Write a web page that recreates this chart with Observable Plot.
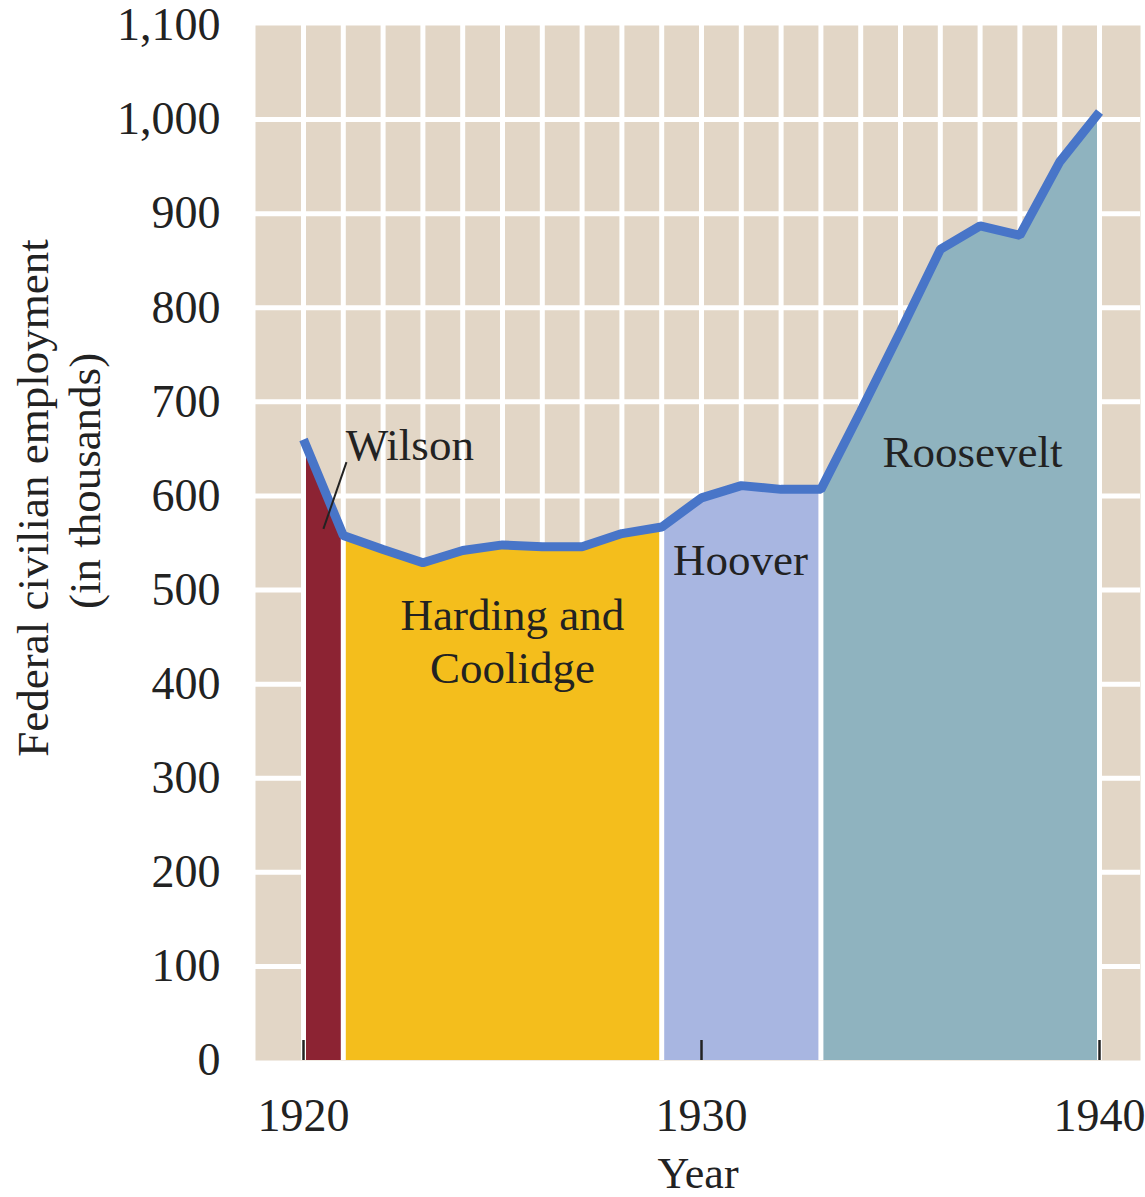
<!DOCTYPE html>
<html>
<head>
<meta charset="utf-8">
<script src="https://cdn.jsdelivr.net/npm/d3@7"></script>
<script src="https://cdn.jsdelivr.net/npm/@observablehq/plot@0.6"></script>
<style>
  html, body { margin: 0; padding: 0; background: #ffffff; }
  #chart { width: 1145px; height: 1197px; }
</style>
</head>
<body>
<div id="chart"></div>
<script>
// ---- Data ----
const years = [1920, 1921, 1922, 1923, 1924, 1925, 1926, 1927, 1928, 1929, 1930,
               1931, 1932, 1933, 1934, 1935, 1936, 1937, 1938, 1939, 1940];
const employment = [660, 558, 543, 529, 542, 548, 546, 546, 560, 567, 598,
                    611, 607, 607, 690, 775, 862, 887, 877, 955, 1008];

const presidents = ["Wilson", "Harding and Coolidge", "Hoover", "Roosevelt"];
const termStart = [1920, 1921, 1929, 1933];
const termEnd = [1921, 1929, 1933, 1940];
const presidentColors = ["#8c2333", "#f4be1c", "#a8b6e1", "#8fb3bf"];

const xTickYears = [1920, 1930, 1940];
const yTickValues = [0, 100, 200, 300, 400, 500, 600, 700, 800, 900, 1000, 1100];
const gridYValues = [100, 200, 300, 400, 500, 600, 700, 800, 900, 1000];

// label annotations (data coordinates)
const labelText = ["Wilson", "Harding and", "Coolidge", "Hoover", "Roosevelt"];
const labelYear = [1921.06, 1925.25, 1925.25, 1930.98, 1936.81];
const labelValue = [653, 473, 417, 531, 646];
const labelAnchor = ["start", "middle", "middle", "middle", "middle"];

// Wilson leader line
const leaderYear1 = [1920.5];
const leaderValue1 = [565];
const leaderYear2 = [1921.08];
const leaderValue2 = [636];

// ---- Build tables ----
const series = years.map((y, i) => ({year: y, value: employment[i]}));
const valueOf = new Map(series.map(d => [d.year, d.value]));
const areaRows = [];
presidents.forEach((p, k) => {
  for (let y = termStart[k]; y <= termEnd[k]; y++) {
    areaRows.push({president: p, year: y, value: valueOf.get(y)});
  }
});
const boundaries = Array.from(new Set([...termStart, ...termEnd])).sort((a, b) => a - b)
  .map(y => ({year: y, value: valueOf.get(y)}));
const labels = labelText.map((t, i) => ({text: t, year: labelYear[i], value: labelValue[i], anchor: labelAnchor[i]}));
const leaders = leaderYear1.map((d, i) => ({x1: d, y1: leaderValue1[i], x2: leaderYear2[i], y2: leaderValue2[i]}));

const W = 1145, H = 1197;
const mL = 255, mR = 5, mT = 25, mB = 137;

const chart = Plot.plot({
  width: W,
  height: H,
  marginLeft: mL,
  marginRight: mR,
  marginTop: mT,
  marginBottom: mB,
  style: {fontFamily: "'Liberation Serif', 'DejaVu Serif', serif", fontSize: "46px", color: "#222", background: "#ffffff"},
  x: {domain: [1918.794, 1941.03], label: null},
  y: {domain: [0, 1100], label: null},
  color: {domain: presidents, range: presidentColors},
  marks: [
    Plot.frame({fill: "#e2d6c6", stroke: null}),
    Plot.ruleX(years, {x: d => d, stroke: "#ffffff", strokeWidth: 5}),
    Plot.ruleY(gridYValues, {y: d => d, stroke: "#ffffff", strokeWidth: 5}),
    Plot.areaY(areaRows, {x: "year", y1: 0, y2: "value", z: "president", fill: "president", fillOpacity: 1}),
    Plot.ruleX(boundaries, {x: "year", y1: 0, y2: "value", stroke: "#ffffff", strokeWidth: 5}),
    Plot.tickX(xTickYears, {x: d => d, stroke: "#222", strokeWidth: 2.5, insetTop: 1015}),
    Plot.line(series, {x: "year", y: "value", stroke: "#4875c8", strokeWidth: 9, strokeLinecap: "butt", strokeLinejoin: "miter"}),
    Plot.link(leaders, {x1: "x1", y1: "y1", x2: "x2", y2: "y2", stroke: "#222", strokeWidth: 2}),
    Plot.text(labels, {x: "year", y: "value", text: "text", textAnchor: "start", filter: d => d.anchor === "start", fontSize: 45, fill: "#222", lineAnchor: "middle"}),
    Plot.text(labels, {x: "year", y: "value", text: "text", textAnchor: "middle", filter: d => d.anchor === "middle", fontSize: 45, fill: "#222", lineAnchor: "middle"}),
    Plot.axisY({ticks: yTickValues, tickFormat: d3.format(","), tickSize: 0, tickPadding: 35, fontSize: 46, label: null}),
    Plot.axisX({ticks: xTickYears, tickFormat: d => String(d), tickSize: 0, tickPadding: 38, fontSize: 46, label: null}),
    Plot.text(["Year"], {frameAnchor: "bottom", dy: 113, text: d => d, fontSize: 44, fill: "#222", lineAnchor: "middle"}),
    Plot.text(["Federal civilian employment"], {frameAnchor: "left", dx: -222, dy: -45, rotate: -90, text: d => d, fontSize: 45, fill: "#222", lineAnchor: "middle", textAnchor: "middle"}),
    Plot.text(["(in thousands)"], {frameAnchor: "left", dx: -170, dy: -62, rotate: -90, text: d => d, fontSize: 45, fill: "#222", lineAnchor: "middle", textAnchor: "middle"})
  ]
});
document.getElementById("chart").appendChild(chart);
</script>
</body>
</html>
